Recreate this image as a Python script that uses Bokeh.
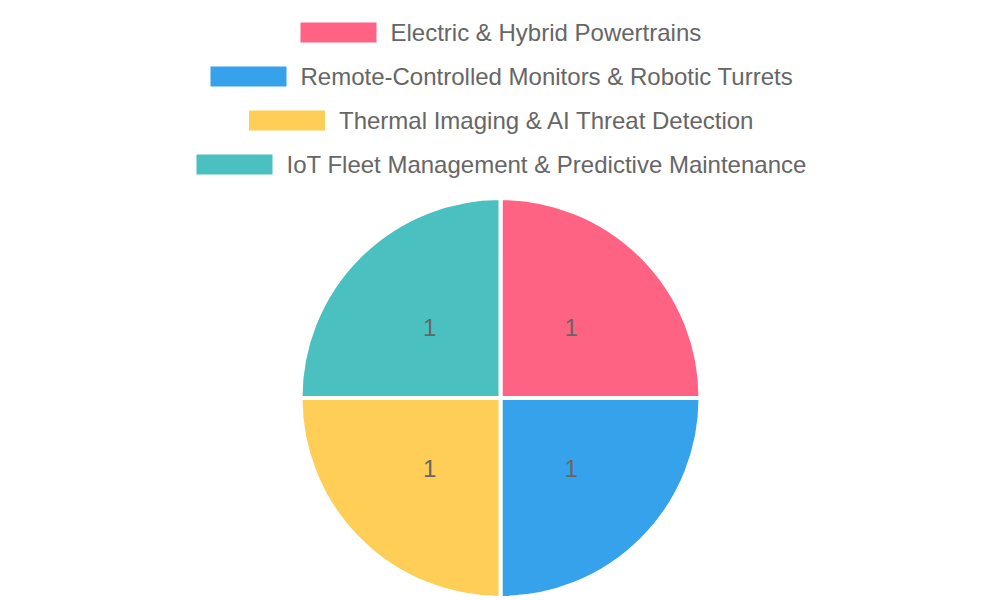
import math
from bokeh.plotting import figure
from bokeh.models import Range1d, ColumnDataSource
from bokeh.core.properties import value
from bokeh.embed import file_html
from bokeh.resources import INLINE

# ---- data ----
categories = [
    "Electric & Hybrid Powertrains",
    "Remote-Controlled Monitors & Robotic Turrets",
    "Thermal Imaging & AI Threat Detection",
    "IoT Fleet Management & Predictive Maintenance",
]
values = [1, 1, 1, 1]
colors = ["#FF6384", "#36A2EB", "#FFCE56", "#4BC0C0"]

# ---- layout (px within the 1000x600 picture) ----
W, H = 1000, 600
def fx(sx):
    return sx
def fy(sy):
    return H - sy

cx, cy = 500, 397.5      # pie centre
R = 200                  # outer radius (px)
legend_row_y = [32, 76, 120, 164]
legend_box_left = [300, 210, 248.5, 196]
BOX_W, BOX_H = 76, 20
TEXT_GAP = 14

p = figure(width=W, height=H, x_range=Range1d(0, W), y_range=Range1d(0, H),
           x_axis_type=None, y_axis_type=None, output_backend="svg",
           toolbar_location=None, min_border=0)
p.grid.visible = False
p.outline_line_color = None
p.background_fill_color = "white"
p.border_fill_color = "white"

total = float(sum(values))
starts, ends, mids = [], [], []
cum = 0.0
for v in values:
    a0 = math.pi / 2 - cum / total * 2 * math.pi
    cum += v
    a1 = math.pi / 2 - cum / total * 2 * math.pi
    starts.append(a0)
    ends.append(a1)
    mids.append((a0 + a1) / 2)

src = ColumnDataSource(dict(start=starts, end=ends, color=colors))
p.wedge(x=fx(cx), y=fy(cy), radius=R, radius_units="screen",
        start_angle="start", end_angle="end", direction="clock",
        fill_color="color", line_color="white", line_width=4, source=src)

lab = ColumnDataSource(dict(
    x=[fx(cx) + R / 2 * math.cos(a) for a in mids],
    y=[fy(cy) + R / 2 * math.sin(a) for a in mids],
    t=[str(v) for v in values],
))
p.text(x="x", y="y", text="t", source=lab, text_align="center",
       text_baseline="middle", text_font=value("Liberation Sans"),
       text_font_size="24px", text_color="#666666")

# legend
leg = ColumnDataSource(dict(
    bx=[fx(l + BOX_W / 2) for l in legend_box_left],
    by=[fy(y) for y in legend_row_y],
    tx=[fx(l + BOX_W + TEXT_GAP) for l in legend_box_left],
    label=categories,
    color=colors,
))
p.rect(x="bx", y="by", width=BOX_W, height=BOX_H, width_units="screen",
       height_units="screen", fill_color="color", line_color=None, source=leg)
p.text(x="tx", y="by", text="label", source=leg, text_align="left",
       text_baseline="middle", text_font=value("Liberation Sans"),
       text_font_size="24px", text_color="#666666")

open("out.html", "w").write(file_html(p, INLINE))
